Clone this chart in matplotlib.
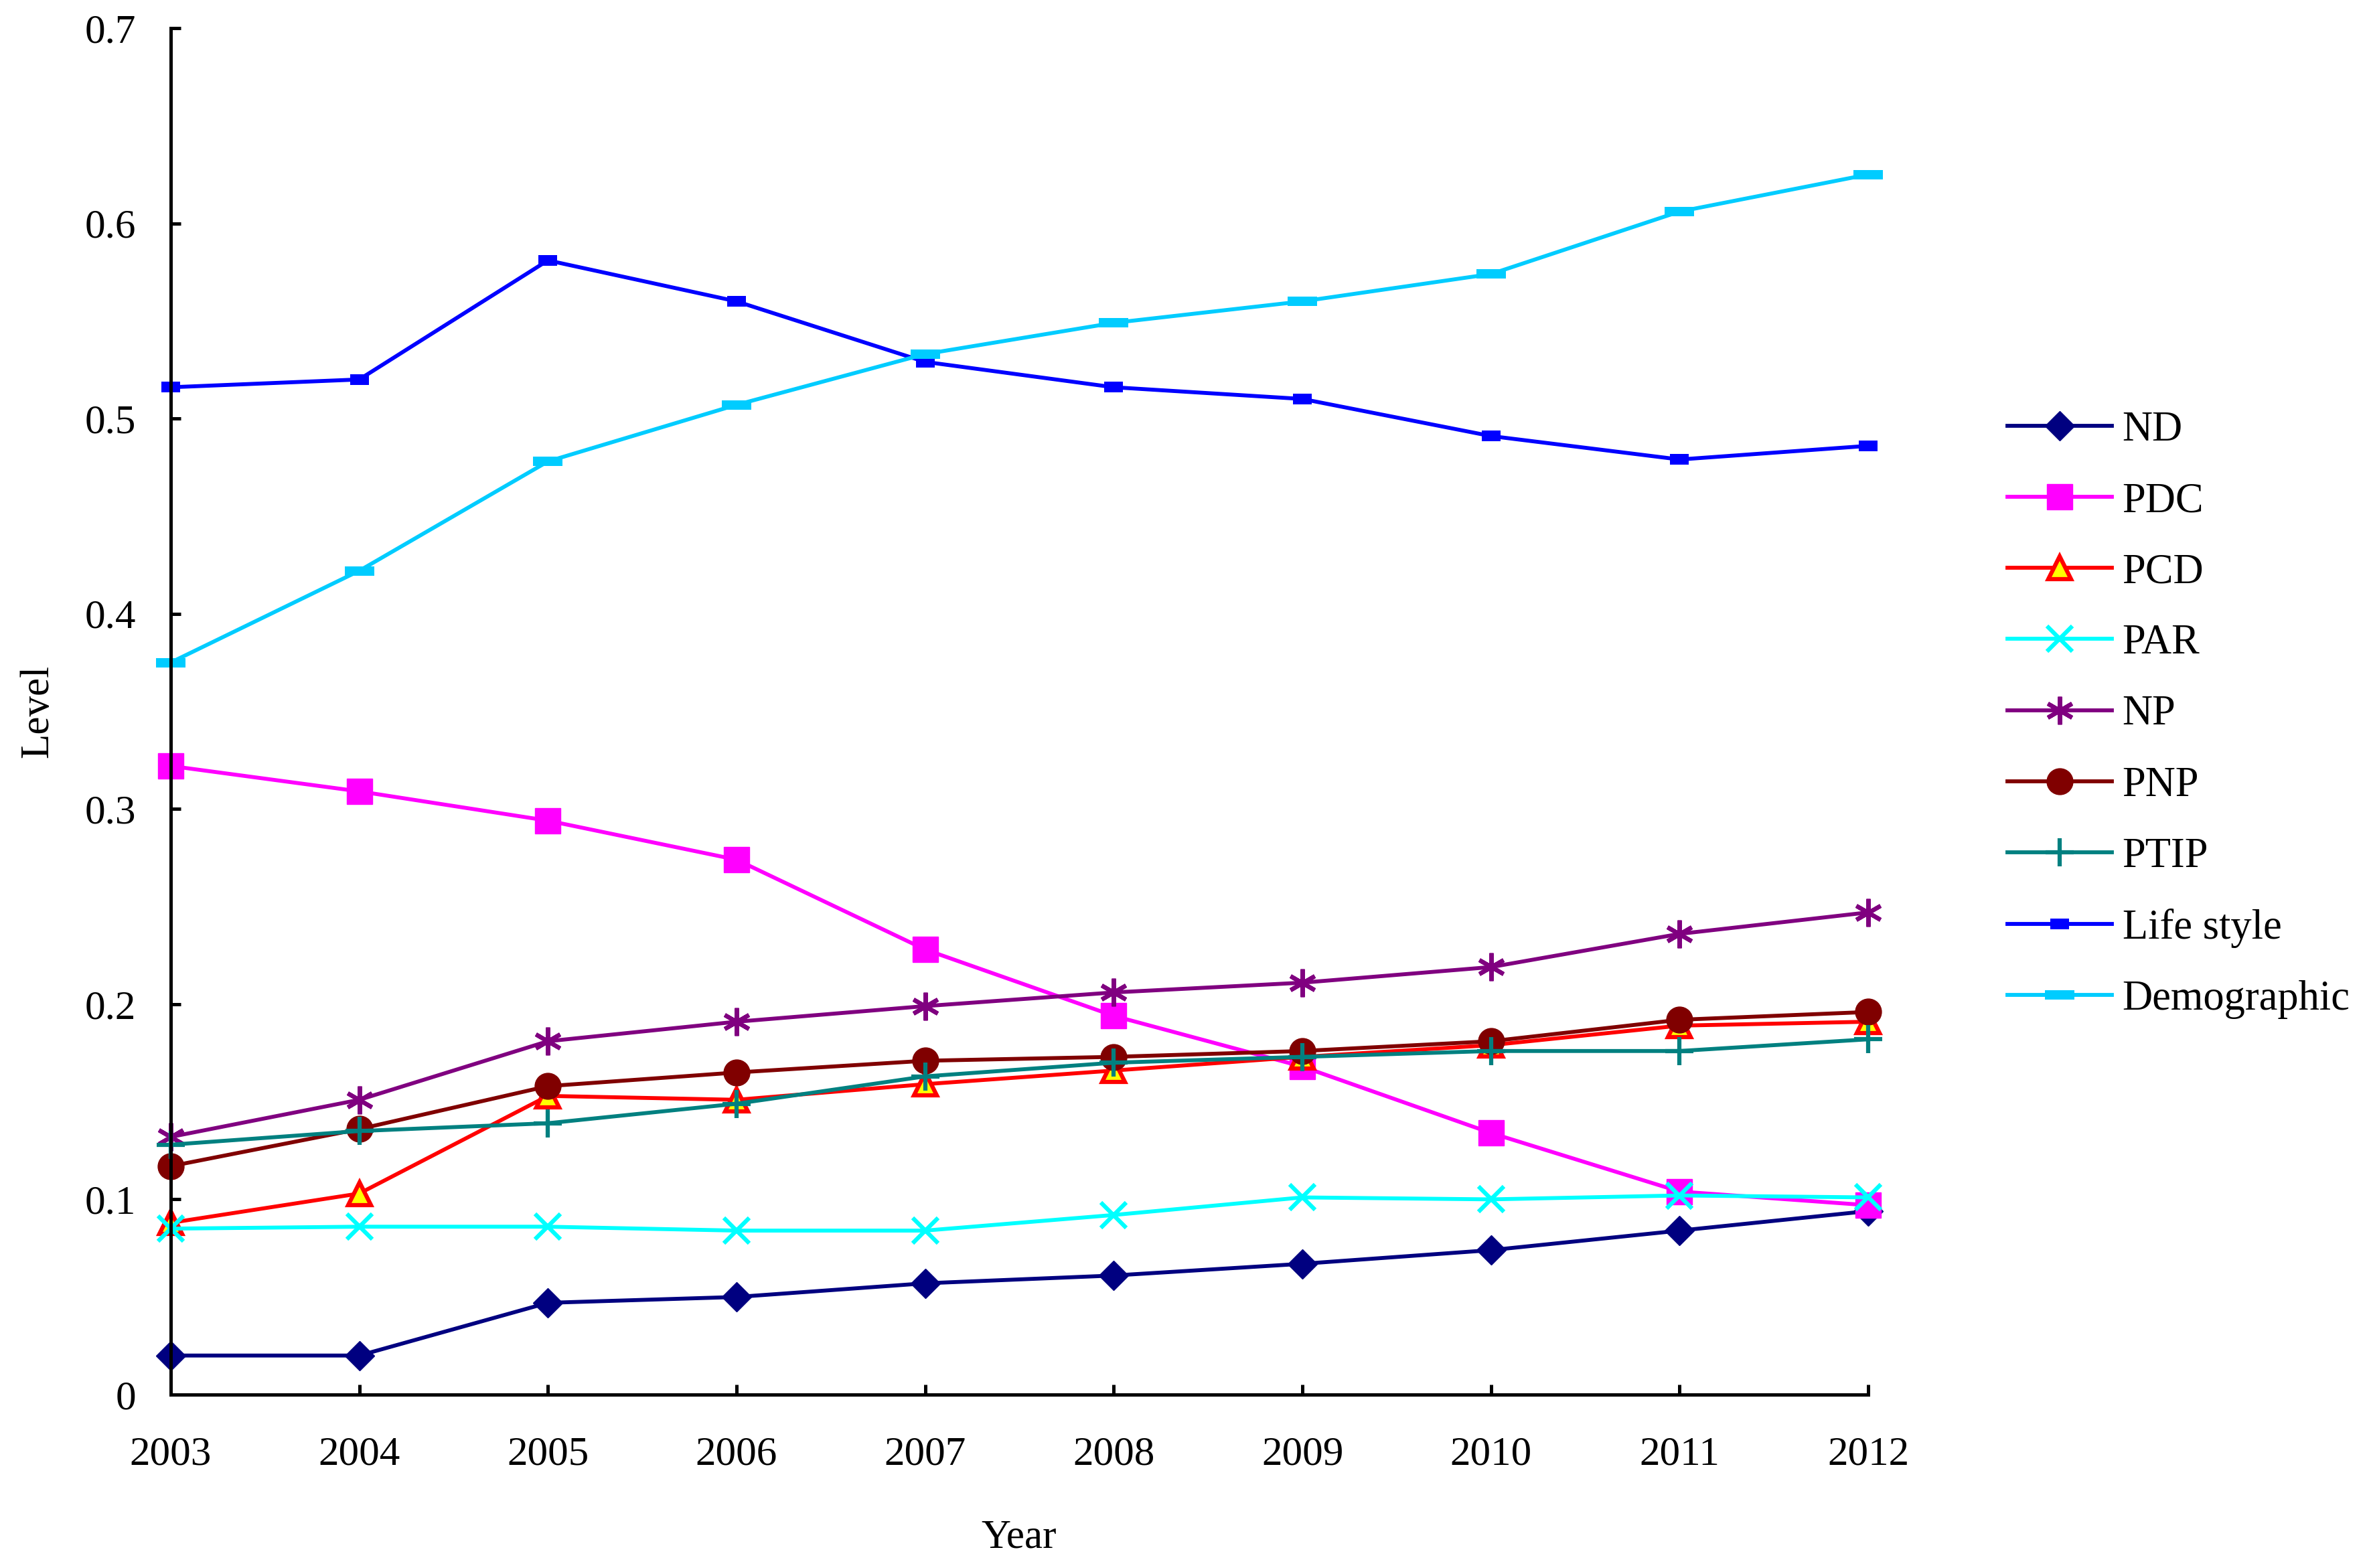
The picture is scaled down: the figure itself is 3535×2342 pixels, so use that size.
import numpy as np
import matplotlib
matplotlib.use("Agg")
import matplotlib.pyplot as plt

plt.rcParams['font.family'] = ['Liberation Serif', 'DejaVu Serif']

# data
years = [2003, 2004, 2005, 2006, 2007, 2008, 2009, 2010, 2011, 2012]
nd = [0.020, 0.020, 0.047, 0.050, 0.057, 0.061, 0.067, 0.074, 0.084, 0.094]
pdc = [0.322, 0.309, 0.294, 0.274, 0.228, 0.194, 0.168, 0.134, 0.104, 0.097]
pcd = [0.088, 0.103, 0.153, 0.151, 0.159, 0.166, 0.173, 0.179, 0.189, 0.191]
par = [0.085, 0.086, 0.086, 0.084, 0.084, 0.092, 0.101, 0.100, 0.102, 0.101]
np_vals = [0.132, 0.151, 0.181, 0.191, 0.199, 0.206, 0.211, 0.219, 0.236, 0.247]
pnp = [0.117, 0.136, 0.158, 0.165, 0.171, 0.173, 0.176, 0.181, 0.192, 0.196]
ptip = [0.128, 0.135, 0.139, 0.149, 0.163, 0.170, 0.173, 0.176, 0.176, 0.182]
life_style = [0.516, 0.520, 0.581, 0.560, 0.529, 0.516, 0.510, 0.491, 0.479, 0.486]
demographic = [0.375, 0.422, 0.478, 0.507, 0.533, 0.549, 0.560, 0.574, 0.606, 0.625]

# wide rectangle markers
rect_ls = [(-1, -0.55), (1, -0.55), (1, 0.55), (-1, 0.55), (-1, -0.55)]
rect_dm = [(-1, -0.33), (1, -0.33), (1, 0.33), (-1, 0.33), (-1, -0.33)]

fig = plt.figure(figsize=(35.35, 23.42), dpi=100)
ax = fig.add_axes([0.0721, 0.1106, 0.7172, 0.8715])

lw = 4.2
ax.plot(years, nd, color='#000080', lw=lw, marker='D', ms=22, label='ND', clip_on=False)
ax.plot(years, pdc, color='#FF00FF', lw=lw, marker='s', ms=27, label='PDC', clip_on=False)
ax.plot(years, pcd, color='#FF0000', lw=lw, marker='^', ms=25, mfc='#FFFF00', mec='#FF0000',
        mew=4.5, label='PCD', clip_on=False)
ax.plot(years, par, color='#00FFFF', lw=lw, marker='x', ms=27, mew=4.5, label='PAR', clip_on=False)
ax.plot(years, np_vals, color='#800080', lw=lw, marker=(6, 2, 0), ms=30, mew=4.5, label='NP', clip_on=False)
ax.plot(years, pnp, color='#800000', lw=lw, marker='o', ms=28, label='PNP', clip_on=False)
ax.plot(years, ptip, color='#008080', lw=lw, marker='+', ms=30, mew=4.5, label='PTIP', clip_on=False)
ax.plot(years, life_style, color='#0000FF', lw=lw, marker=rect_ls, ms=20, mew=0, label='Life style', clip_on=False)
ax.plot(years, demographic, color='#00CCFF', lw=lw, marker=rect_dm, ms=32, mew=0, label='Demographic', clip_on=False)

ax.set_xlim(2003, 2012)
ax.set_ylim(0, 0.7)
ax.set_xticks(years)
ax.set_xticklabels([str(y) for y in years])
ax.set_yticks([0, 0.1, 0.2, 0.3, 0.4, 0.5, 0.6, 0.7])
ax.set_yticklabels(['0', '0.1', '0.2', '0.3', '0.4', '0.5', '0.6', '0.7'])

for side in ['top', 'right']:
    ax.spines[side].set_visible(False)
for side in ['left', 'bottom']:
    ax.spines[side].set_linewidth(3.6)

ax.tick_params(axis='both', direction='in', length=11, width=3.6, labelsize=44)
ax.tick_params(axis='y', pad=37)
ax.tick_params(axis='x', pad=45)

fig.text(56 / 3535, 0.5465, 'Level', rotation=90, ha='center', va='center', fontsize=44)
fig.text(0.4305, 0.0192, 'Year', ha='center', va='center', fontsize=44)

leg = fig.legend(loc='center left', bbox_to_anchor=(0.848, 0.544), frameon=False,
                 fontsize=45, handlelength=2.5, handletextpad=0.25, labelspacing=0.77,
                 borderpad=0, borderaxespad=0)

fig.savefig('out.png', dpi=100)
